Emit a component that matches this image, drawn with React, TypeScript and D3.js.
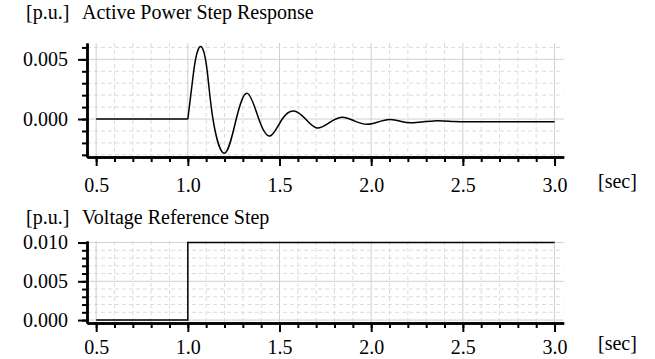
import { useRef, useEffect } from "react";
import * as d3 from "d3";

// Active power response [sec, p.u.]
const powerTime = [0.5, 1.0, 1.02, 1.042, 1.073, 1.105, 1.137, 1.2, 1.264, 1.325, 1.387, 1.449, 1.515, 1.58, 1.642, 1.704, 1.772, 1.84, 1.908, 1.977, 2.04, 2.1, 2.16, 2.222, 2.34, 2.45, 2.56, 2.7, 3.0];
const powerValue = [0, 0, 0.0025, 0.005, 0.00606, 0.0041, 0, -0.00287, 0, 0.00215, 0, -0.00142, 0, 0.00067, 0, -0.00075, -0.0003, 0.00015, -0.00015, -0.00044, -0.00024, -0.00004, -0.00018, -0.00031, -0.00016, -0.0002, -0.00022, -0.00022, -0.00022];

// Voltage reference step
const stepTime = [0.5, 1.0, 3.0];
const stepValue = [0, 0.01, 0.01];

const xMajor = [0.5, 1.0, 1.5, 2.0, 2.5, 3.0];
const xMinor = d3.range(5, 31).map(d => d / 10);
const powerMajor = [0, 0.005];
const powerMinor = d3.range(-3, 7).map(d => d / 1000);
const stepMajor = [0, 0.005, 0.01];
const stepMinor = d3.range(0, 11).map(d => d / 1000);

const FONT = "'Liberation Serif', 'Times New Roman', serif";
const FS = 20;

export default function App() {
  const svgRef = useRef<SVGSVGElement>(null);

  useEffect(() => {
    if (!svgRef.current) return;
    const svg = d3.select(svgRef.current);
    svg.selectAll("*").remove();

    const x = d3.scaleLinear().domain([0.45, 3.05]).range([87, 563.7]);

    const drawPanel = (
      top: number, bottom: number, yDomain: [number, number],
      yMajor: number[], yMinor: number[], title: string, titleY: number, labelPad: number,
      draw: (g: d3.Selection<SVGGElement, unknown, null, undefined>, y: d3.ScaleLinear<number, number>) => void,
    ) => {
      const y = d3.scaleLinear().domain(yDomain).range([bottom, top]);
      const g = svg.append("g");

      // grid
      const grid = g.append("g");
      grid.selectAll(".vmin").data(xMinor.filter(d => !xMajor.includes(d))).enter().append("line")
        .attr("x1", d => x(d)).attr("x2", d => x(d)).attr("y1", top).attr("y2", bottom)
        .attr("stroke", "#dcdcdc").attr("stroke-dasharray", "4,3");
      grid.selectAll(".hmin").data(yMinor.filter(d => !yMajor.includes(d))).enter().append("line")
        .attr("x1", 87).attr("x2", 563.7).attr("y1", d => y(d)).attr("y2", d => y(d))
        .attr("stroke", "#dcdcdc").attr("stroke-dasharray", "4,3");
      grid.selectAll(".vmaj").data(xMajor).enter().append("line")
        .attr("x1", d => x(d)).attr("x2", d => x(d)).attr("y1", top).attr("y2", bottom)
        .attr("stroke", "#d0d0d0");
      grid.selectAll(".hmaj").data(yMajor).enter().append("line")
        .attr("x1", 87).attr("x2", 563.7).attr("y1", d => y(d)).attr("y2", d => y(d))
        .attr("stroke", "#d0d0d0");

      draw(g, y);

      // axes
      const styleAxis = (a: d3.Selection<SVGGElement, unknown, null, undefined>) => {
        a.attr("font-family", FONT).attr("font-size", FS);
        a.select(".domain").attr("stroke", "#000").attr("stroke-width", 2.5);
        a.selectAll(".tick line").attr("stroke", "#000").attr("stroke-width", 2);
        a.selectAll(".tick text").attr("fill", "#000");
      };
      g.append("g").attr("transform", `translate(0,${bottom})`)
        .call(d3.axisBottom(x).tickValues(xMinor).tickSize(5).tickSizeOuter(0).tickFormat(() => ""))
        .call(styleAxis);
      g.append("g").attr("transform", `translate(0,${bottom})`)
        .call(d3.axisBottom(x).tickValues(xMajor).tickSize(9).tickSizeOuter(0).tickPadding(labelPad).tickFormat(d3.format(".1f")))
        .call(styleAxis);
      g.append("g").attr("transform", `translate(87,0)`)
        .call(d3.axisLeft(y).tickValues(yMinor).tickSize(5).tickSizeOuter(0).tickFormat(() => ""))
        .call(styleAxis);
      g.append("g").attr("transform", `translate(87,0)`)
        .call(d3.axisLeft(y).tickValues(yMajor).tickSize(9).tickSizeOuter(0).tickPadding(10).tickFormat(d3.format(".3f")))
        .call(styleAxis);

      g.append("text").attr("x", 26).attr("y", titleY).attr("font-family", FONT).attr("font-size", FS).text("[p.u.]");
      g.append("text").attr("x", 82).attr("y", titleY).attr("font-family", FONT).attr("font-size", FS).text(title);
      g.append("text").attr("x", 598).attr("y", bottom + labelPad + 18.5).attr("font-family", FONT).attr("font-size", FS).text("[sec]");
    };

    const power = powerTime.map((t, i) => ({ t, v: powerValue[i] }));
    const step = stepTime.map((t, i) => ({ t, v: stepValue[i] }));

    drawPanel(43, 157, [-0.00318, 0.00637], powerMajor, powerMinor, "Active Power Step Response", 19, 12, (g, y) => {
      const flat = d3.line<{ t: number; v: number }>().x(d => x(d.t)).y(d => y(d.v));
      const osc = d3.line<{ t: number; v: number }>().x(d => x(d.t)).y(d => y(d.v)).curve(d3.curveNatural);
      g.append("path").datum(power.filter(d => d.t <= 1.0)).attr("d", flat)
        .attr("fill", "none").attr("stroke", "#000").attr("stroke-width", 1.5);
      g.append("path").datum(power.filter(d => d.t >= 1.0)).attr("d", osc)
        .attr("fill", "none").attr("stroke", "#000").attr("stroke-width", 1.5);
    });

    drawPanel(241, 323, [-0.00038, 0.0102], stepMajor, stepMinor, "Voltage Reference Step", 224, 8, (g, y) => {
      const line = d3.line<{ t: number; v: number }>().x(d => x(d.t)).y(d => y(d.v)).curve(d3.curveStepAfter);
      g.append("path").datum(step).attr("d", line)
        .attr("fill", "none").attr("stroke", "#000").attr("stroke-width", 1.5);
    });
  }, []);

  return (
    <svg ref={svgRef} width={655} height={359}
      style={{ position: "absolute", left: 0, top: 0, background: "#fff" }} />
  );
}
